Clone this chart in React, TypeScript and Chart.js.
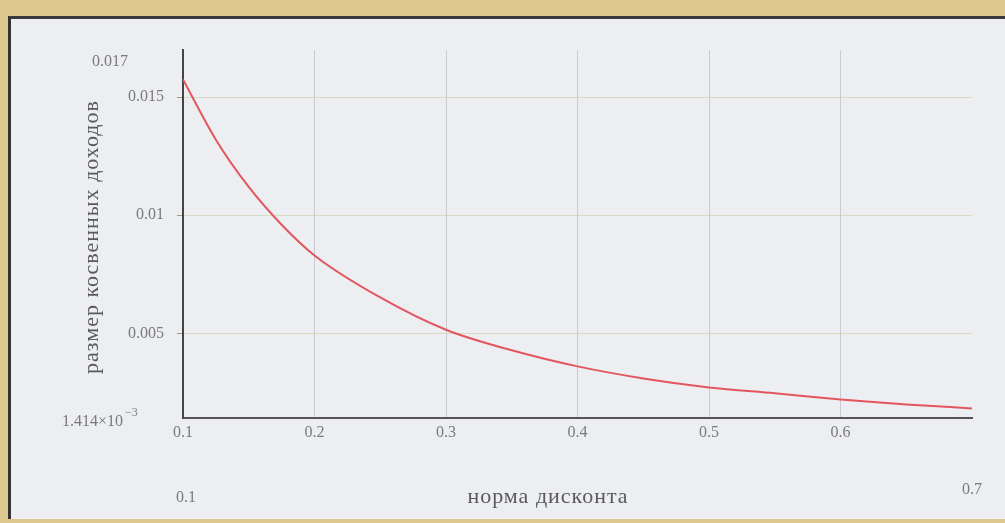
import { useEffect, useRef } from 'react';
import { Chart, registerables } from 'chart.js';

Chart.register(...registerables);

// норма дисконта (x) and размер косвенных доходов (y)
const discountRates = [0.1, 0.125, 0.15, 0.175, 0.2, 0.25, 0.3, 0.35, 0.4, 0.45, 0.5, 0.55, 0.6, 0.65, 0.7];
const indirectIncome = [0.01575, 0.0132, 0.0112, 0.0096, 0.0083, 0.00652, 0.00515, 0.00428, 0.0036, 0.00309, 0.00271, 0.00246, 0.0022, 0.00199, 0.00182];

const xTicks = [0.1, 0.2, 0.3, 0.4, 0.5, 0.6, 0.7];
const yTicks = [0.005, 0.01, 0.015];
const xLimits = [0.1, 0.7];
const yLimits = [0.001414, 0.017];
const yLimitLabels = ['1.414×10', '0.017'];
const xTitle = 'норма дисконта';
const yTitle = 'размер косвенных доходов';

const SERIF = '"Liberation Serif", "DejaVu Serif", serif';

const limitsPlugin = {
  id: 'mathcadLimits',
  afterDraw(chart: any) {
    const { ctx, scales, chartArea } = chart;
    const xs = scales.x;
    const ys = scales.y;
    ctx.save();
    ctx.fillStyle = '#7a7a7a';
    ctx.font = `16px ${SERIF}`;
    ctx.textBaseline = 'middle';
    // y limits
    ctx.textAlign = 'right';
    ctx.fillText(yLimitLabels[1], 128, ys.getPixelForValue(yLimits[1]) + 12);
    const yb = ys.getPixelForValue(yLimits[0]) + 4;
    ctx.fillText(yLimitLabels[0], 123, yb);
    ctx.font = `12px ${SERIF}`;
    ctx.textAlign = 'left';
    ctx.fillText('−3', 125, yb - 9);
    // x limits
    ctx.font = `16px ${SERIF}`;
    ctx.textAlign = 'center';
    ctx.fillText(String(xLimits[0]), xs.getPixelForValue(xLimits[0]) + 3, 498);
    ctx.fillText(String(xLimits[1]), xs.getPixelForValue(xLimits[1]), 490);
    // titles
    ctx.fillStyle = '#5a5a5a';
    ctx.font = `22px ${SERIF}`;
    (ctx as any).letterSpacing = '1px';
    ctx.fillText(xTitle, 548, 497);
    ctx.translate(92, (chartArea.top + chartArea.bottom) / 2 + 3);
    ctx.rotate(-Math.PI / 2);
    ctx.fillText(yTitle, 0, 0);
    ctx.restore();
  },
};

export default function App() {
  const ref = useRef<HTMLCanvasElement | null>(null);

  useEffect(() => {
    if (!ref.current) return;
    const chart = new Chart(ref.current, {
      type: 'line',
      data: {
        datasets: [
          {
            data: discountRates.map((x, i) => ({ x, y: indirectIncome[i] })),
            borderColor: '#e2565e',
            borderWidth: 2,
            pointRadius: 0,
            cubicInterpolationMode: 'monotone',
            fill: false,
          },
        ],
      },
      options: {
        animation: false,
        responsive: false,
        devicePixelRatio: 1,
        layout: { padding: { top: 50, right: 33, left: 0, bottom: 0 } },
        plugins: { legend: { display: false }, tooltip: { enabled: false } },
        scales: {
          x: {
            type: 'linear',
            min: xLimits[0],
            max: xLimits[1],
            afterBuildTicks: (s: any) => {
              s.ticks = xTicks.map((v) => ({ value: v }));
            },
            afterFit: (s: any) => {
              s.height = 105;
            },
            ticks: {
              color: '#7a7a7a',
              font: { family: SERIF, size: 16 },
              padding: 5,
              maxRotation: 0,
              callback: (v: any) => (Math.abs(v - 0.7) < 1e-9 ? '' : String(Math.round(v * 10) / 10)),
            },
            grid: {
              drawTicks: false,
              color: (c: any) =>
                c.tick && (Math.abs(c.tick.value - 0.1) < 1e-9 || Math.abs(c.tick.value - 0.7) < 1e-9)
                  ? 'rgba(0,0,0,0)'
                  : 'rgba(150,150,160,0.4)',
              lineWidth: 1,
            },
            border: { color: '#555', width: 2 },
          },
          y: {
            type: 'linear',
            min: yLimits[0],
            max: yLimits[1],
            afterBuildTicks: (s: any) => {
              s.ticks = yTicks.map((v) => ({ value: v }));
            },
            afterFit: (s: any) => {
              s.width = 183;
            },
            ticks: {
              color: '#7a7a7a',
              font: { family: SERIF, size: 16 },
              padding: 13,
              callback: (v: any) => String(v),
            },
            grid: {
              color: 'rgba(205,205,160,0.6)',
              tickColor: '#999',
              tickLength: 6,
              lineWidth: 1,
            },
            border: { color: '#444', width: 2 },
          },
        },
      },
      plugins: [limitsPlugin],
    } as any);
    return () => chart.destroy();
  }, []);

  return (
    <div style={{ position: 'fixed', left: 0, top: 0, width: 1005, height: 523, background: '#dcc78c', overflow: 'hidden' }}>
      <div
        style={{
          position: 'absolute',
          left: 8,
          top: 16,
          width: 1000,
          height: 500,
          background: '#eceef2',
          borderLeft: '3px solid #333',
          borderTop: '3px solid #3a3a3a',
        }}
      />
      <canvas ref={ref} width={1005} height={523} style={{ position: 'absolute', left: 0, top: 0, width: 1005, height: 523 }} />
    </div>
  );
}
